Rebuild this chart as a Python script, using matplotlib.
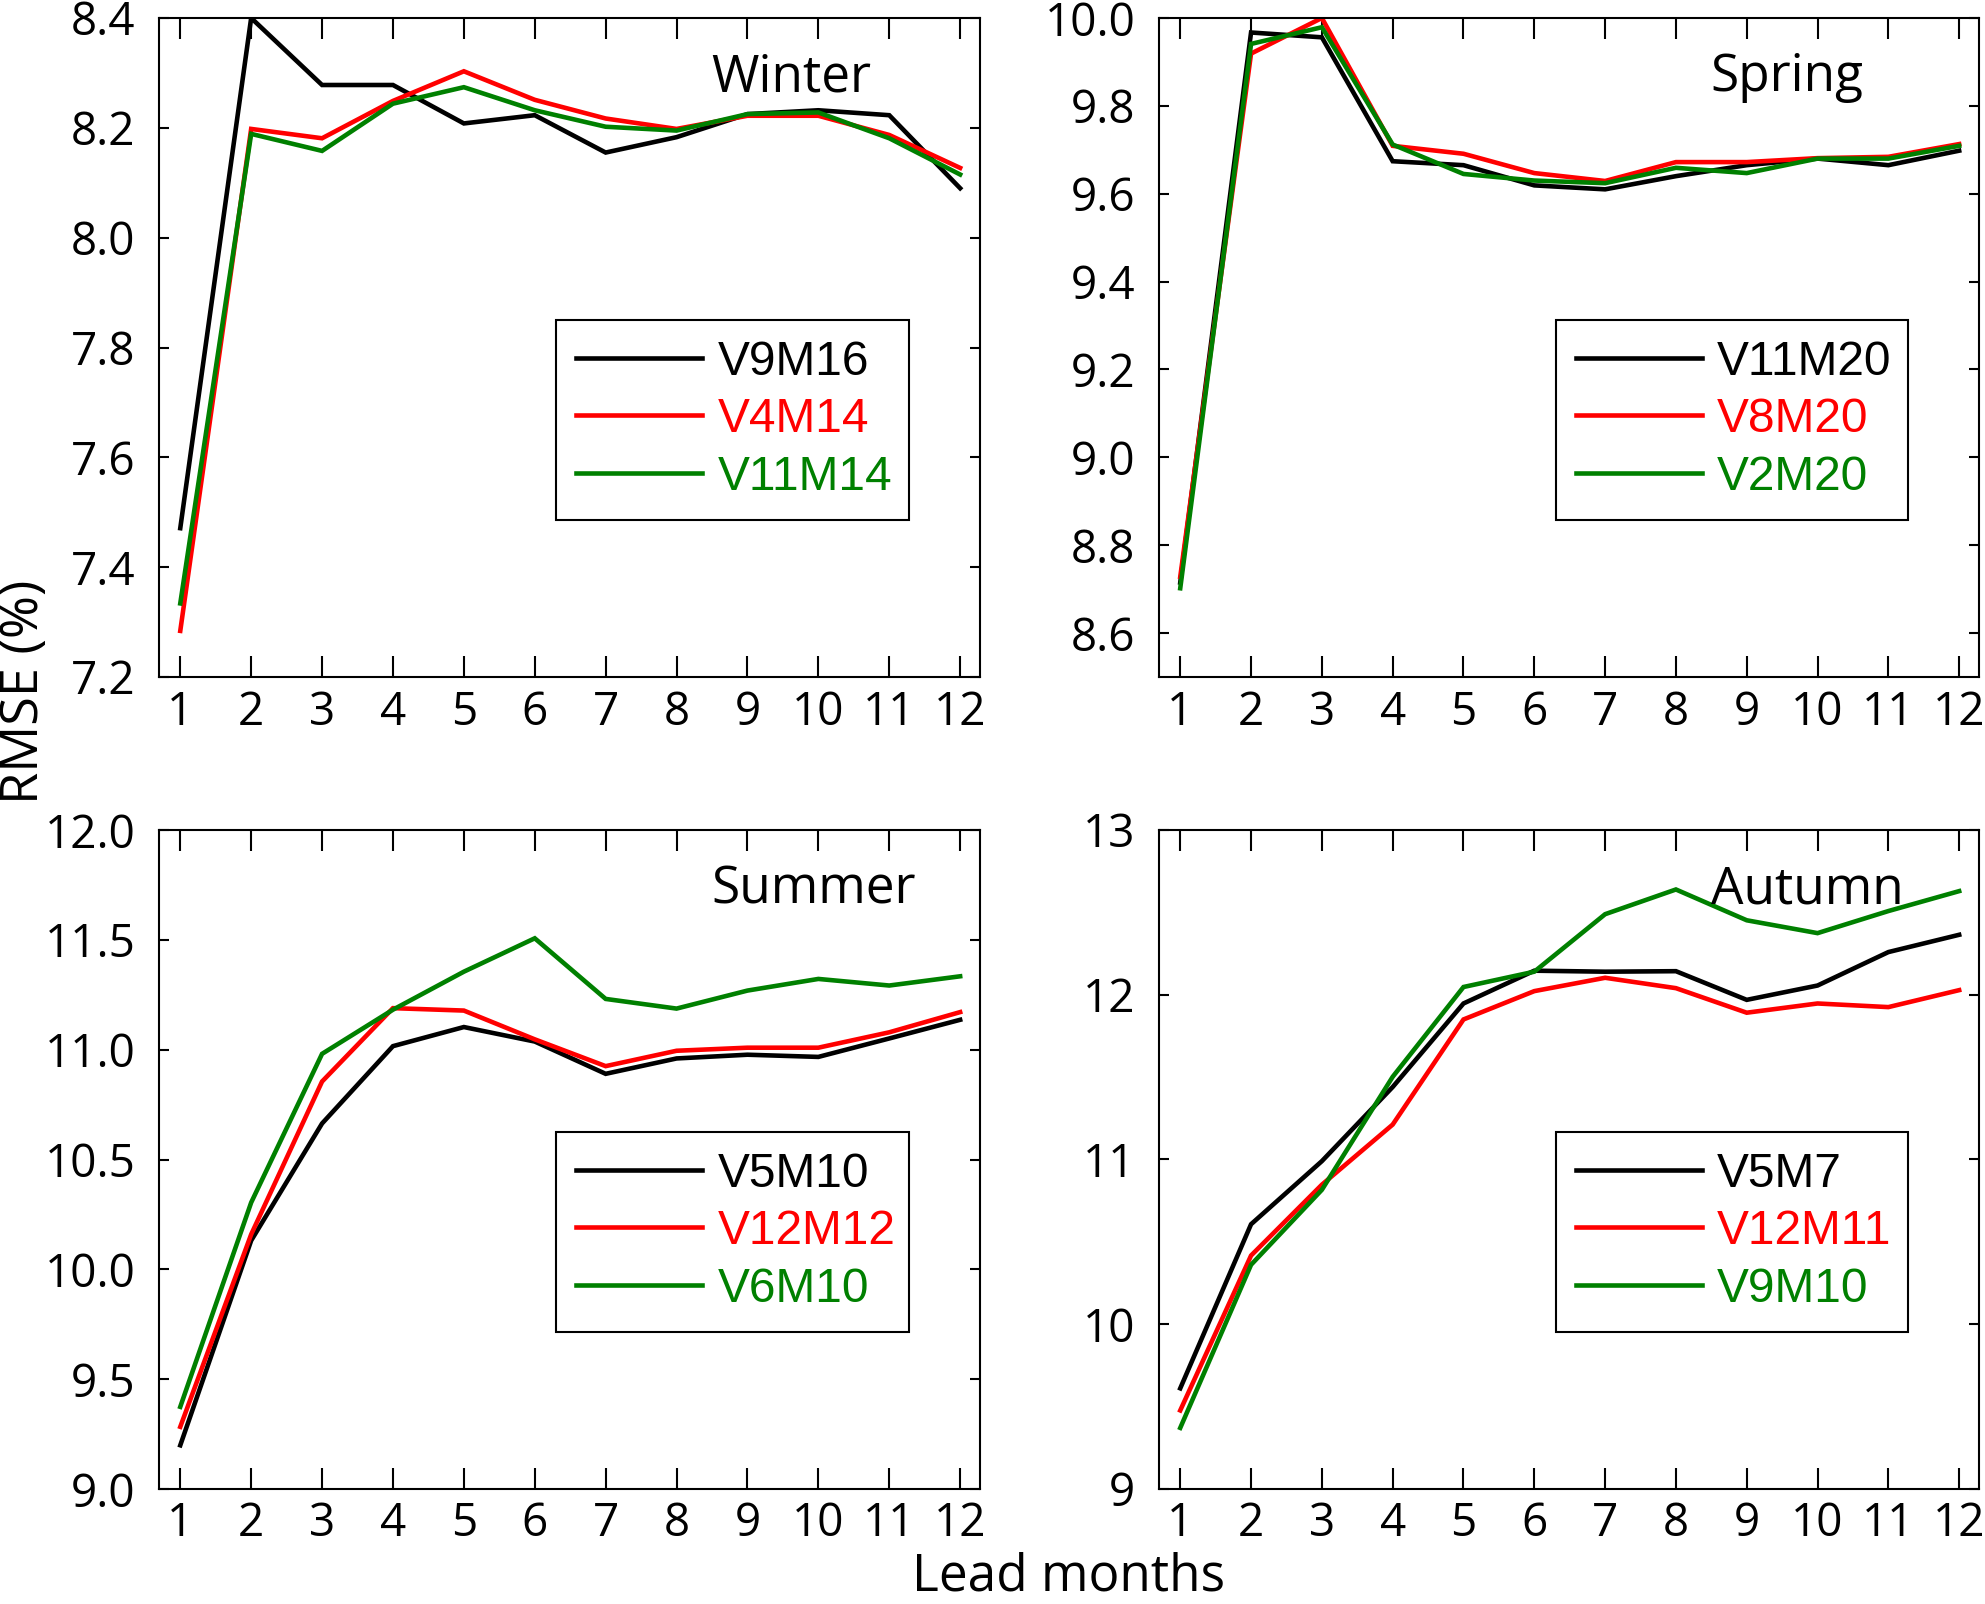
import matplotlib
matplotlib.use("Agg")
import matplotlib.pyplot as plt
import numpy as np
from matplotlib.ticker import FormatStrFormatter

lead = list(range(1, 13))

# Winter
win_names = ["V9M16", "V4M14", "V11M14"]
win_black = [7.471, 8.40, 8.278, 8.278, 8.208, 8.223, 8.155, 8.183, 8.225, 8.232, 8.223, 8.090]
win_red = [7.284, 8.198, 8.181, 8.249, 8.303, 8.251, 8.217, 8.198, 8.222, 8.222, 8.187, 8.127]
win_green = [7.334, 8.189, 8.158, 8.244, 8.274, 8.232, 8.202, 8.195, 8.225, 8.228, 8.181, 8.115]

# Spring
spr_names = ["V11M20", "V8M20", "V2M20"]
spr_black = [8.715, 9.967, 9.956, 9.674, 9.665, 9.619, 9.610, 9.640, 9.665, 9.680, 9.665, 9.698]
spr_red = [8.728, 9.919, 10.0, 9.709, 9.691, 9.647, 9.629, 9.672, 9.672, 9.681, 9.684, 9.713]
spr_green = [8.702, 9.941, 9.979, 9.712, 9.645, 9.630, 9.624, 9.659, 9.647, 9.680, 9.680, 9.709]

# Summer
sum_names = ["V5M10", "V12M12", "V6M10"]
sum_black = [9.199, 10.131, 10.664, 11.016, 11.103, 11.037, 10.890, 10.960, 10.977, 10.967, 11.051, 11.136]
sum_red = [9.283, 10.159, 10.855, 11.189, 11.178, 11.047, 10.925, 10.995, 11.009, 11.009, 11.079, 11.171]
sum_green = [9.374, 10.304, 10.981, 11.182, 11.355, 11.507, 11.231, 11.187, 11.269, 11.322, 11.292, 11.334]

# Autumn
aut_names = ["V5M7", "V12M11", "V9M10"]
aut_black = [9.611, 10.607, 10.990, 11.440, 11.947, 12.146, 12.140, 12.143, 11.969, 12.056, 12.259, 12.364]
aut_red = [9.477, 10.417, 10.847, 11.212, 11.850, 12.022, 12.103, 12.040, 11.891, 11.947, 11.925, 12.028]
aut_green = [9.371, 10.361, 10.816, 11.502, 12.047, 12.140, 12.489, 12.639, 12.452, 12.374, 12.508, 12.629]

seasons = ["Winter", "Spring", "Summer", "Autumn"]
colors = ["#000000", "#FF0000", "#008000"]

TICKFONT = ["Open Sans", "DejaVu Sans"]
LEGFONT = ["Liberation Sans", "DejaVu Sans"]

fig = plt.figure(figsize=(19.85, 16.04), dpi=100)

L1, R1 = 159 / 1985, 980 / 1985
L2, R2 = 1159 / 1985, 1979 / 1985
T1, B1 = 1 - 18 / 1604, 1 - 677 / 1604
T2, B2 = 1 - 830 / 1604, 1 - 1489 / 1604

rects = [
    [L1, B1, R1 - L1, T1 - B1],
    [L2, B1, R2 - L2, T1 - B1],
    [L1, B2, R1 - L1, T2 - B2],
    [L2, B2, R2 - L2, T2 - B2],
]

panels = [
    (win_names, [win_black, win_red, win_green], (7.2, 8.4), 0.2, "%.1f", 7.2),
    (spr_names, [spr_black, spr_red, spr_green], (8.5, 10.0), 0.2, "%.1f", 8.6),
    (sum_names, [sum_black, sum_red, sum_green], (9.0, 12.0), 0.5, "%.1f", 9.0),
    (aut_names, [aut_black, aut_red, aut_green], (9.0, 13.0), 1.0, "%d", 9.0),
]

LW = 3.3

for rect, season, (names, series, ylim, ystep, fmt, ystart) in zip(rects, seasons, panels):
    ax = fig.add_axes(rect)
    lines = []
    for vals, c, n in zip(series, colors, names):
        ln, = ax.plot(lead, vals, color=c, lw=LW, label=n, solid_joinstyle="miter")
        lines.append(ln)
    ax.set_xlim(0.7, 12.28)
    ax.set_ylim(*ylim)
    ax.set_xticks(lead)
    yt = np.arange(ystart, ylim[1] + 1e-6, ystep)
    ax.set_yticks(yt)
    ax.yaxis.set_major_formatter(FormatStrFormatter(fmt))
    ax.tick_params(axis="x", which="major", direction="in", length=15, width=1.5,
                   top=True, bottom=True, pad=9, labelsize=33)
    ax.tick_params(axis="y", which="major", direction="in", length=7.2, width=1.5,
                   left=True, right=True, pad=17, labelsize=33)
    ax.minorticks_off()
    for lab in ax.get_xticklabels() + ax.get_yticklabels():
        lab.set_family(TICKFONT)
    for sp in ax.spines.values():
        sp.set_linewidth(1.5)
    ax.text(0.673, 0.889, season, transform=ax.transAxes, ha="left", va="baseline",
            fontsize=37, family=TICKFONT, zorder=10)
    leg = ax.legend(handles=lines, loc="center", bbox_to_anchor=(0.484, 0.238, 0.43, 0.305),
                    mode="expand", borderaxespad=0, prop={"family": LEGFONT, "size": 34.5},
                    handlelength=2.62, handletextpad=0.32, labelspacing=0.26, borderpad=0.42,
                    frameon=True, fancybox=False, framealpha=1, edgecolor="black",
                    labelcolor="linecolor")
    leg.get_frame().set_linewidth(1.5)
    for hl in leg.get_lines():
        hl.set_linewidth(LW)

fig.text(0.0125, 0.569, "RMSE (%)", rotation=90, ha="center", va="center",
         fontsize=37.5, family=TICKFONT)
fig.text(0.5385, 0.0085, "Lead months", ha="center", va="baseline",
         fontsize=37, family=TICKFONT)

fig.savefig("out.png", dpi=100)
